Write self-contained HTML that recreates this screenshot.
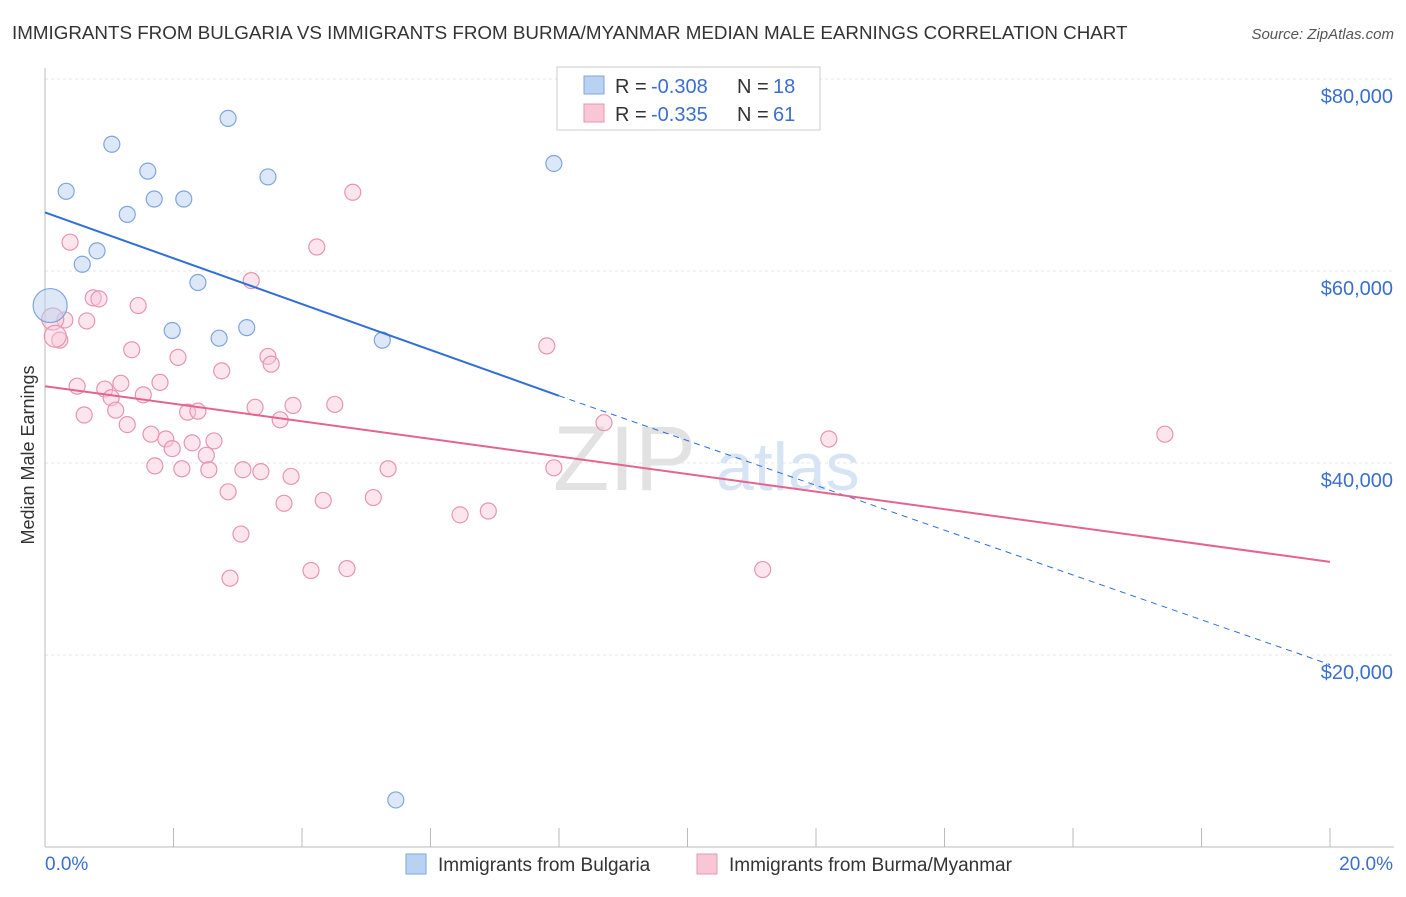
<!DOCTYPE html>
<html><head><meta charset="utf-8"><style>
body{margin:0;background:#fff;font-family:"Liberation Sans",sans-serif}
svg text{font-family:"Liberation Sans",sans-serif}
</style></head><body>
<svg id="c" width="1406" height="892" xmlns="http://www.w3.org/2000/svg">
<text x="12" y="39" font-size="18.8" fill="#333">IMMIGRANTS FROM BULGARIA VS IMMIGRANTS FROM BURMA/MYANMAR MEDIAN MALE EARNINGS CORRELATION CHART</text>
<text x="1394" y="39" font-size="15" fill="#555" text-anchor="end" font-style="italic">Source: ZipAtlas.com</text>
<text x="34" y="455" font-size="18" fill="#333" text-anchor="middle" transform="rotate(-90 34 455)">Median Male Earnings</text>
<text x="553" y="490" font-size="92" fill="#e2e2e2" font-family="Liberation Serif">ZIP</text>
<text x="716" y="490" font-size="68" fill="#d6e4f5">atlas</text>
<g id="grid"></g><g id="pts"></g><g id="lines"></g>
<g>
<rect x="557" y="67" width="263" height="63" fill="#fff" stroke="#ccc"/>
<rect x="584" y="76" width="20" height="18" fill="#b9d2f2" stroke="#7fa6dc"/>
<rect x="584" y="104" width="20" height="18" fill="#f9c6d6" stroke="#e795b0"/>
<text x="615" y="93" font-size="20" fill="#333">R =</text><text x="651" y="93" font-size="20" fill="#3a6fd0">-0.308</text>
<text x="737" y="93" font-size="20" fill="#333">N =</text><text x="773" y="93" font-size="20" fill="#3a6fd0">18</text>
<text x="615" y="121" font-size="20" fill="#333">R =</text><text x="651" y="121" font-size="20" fill="#3a6fd0">-0.335</text>
<text x="737" y="121" font-size="20" fill="#333">N =</text><text x="773" y="121" font-size="20" fill="#3a6fd0">61</text>
</g>
<g>
<rect x="406" y="854" width="20" height="20" fill="#b9d2f2" stroke="#7fa6dc"/>
<text x="438" y="871" font-size="19" fill="#333">Immigrants from Bulgaria</text>
<rect x="697" y="854" width="20" height="20" fill="#f9c6d6" stroke="#e795b0"/>
<text x="729" y="871" font-size="19" fill="#333">Immigrants from Burma/Myanmar</text>
</g>
</svg>
<script>
const yTicks=[20000,40000,60000,80000];
const yTickLabels=["$20,000","$40,000","$60,000","$80,000"];
const bulgariaX=[1.04,2.85,1.60,3.47,0.33,1.70,2.16,1.28,7.92,0.81,0.58,2.38,0.08,1.98,2.71,3.14,5.25,5.46];
const bulgariaY=[73200,75900,70400,69800,68300,67500,67500,65900,71200,62100,60700,58800,56400,53800,53000,54100,52800,4900];
const burmaX=[0.39,4.79,4.23,3.21,0.75,0.84,0.65,0.31,0.23,1.45,1.35,2.07,7.81,3.47,3.52,2.75,0.5,0.93,1.18,1.79,1.03,1.53,1.1,3.86,3.27,4.51,2.22,2.38,3.66,0.61,1.28,8.7,1.65,1.88,2.29,2.63,1.98,2.51,1.71,2.13,2.55,3.08,3.36,3.83,5.34,7.92,2.85,3.72,4.33,5.11,6.46,6.9,3.05,4.14,4.7,2.88,11.17,12.2,17.43,0.12,0.16];
const burmaY=[63000,68200,62500,59000,57200,57100,54800,54900,52800,56400,51800,51000,52200,51100,50300,49600,48000,47700,48300,48400,46800,47100,45500,46000,45800,46100,45300,45400,44500,45000,44000,44200,43000,42500,42100,42300,41500,40800,39700,39400,39300,39300,39100,38600,39400,39500,37000,35800,36100,36400,34600,35000,32600,28800,29000,28000,28900,42500,43000,55000,53200];
const bulgariaTrend=[0,66100,8,47000,20,19000];
const burmaTrend=[0,48000,20,29700];
const X=v=>45+v/20*1285, Y=v=>847-v/20000*192;
const NS="http://www.w3.org/2000/svg";
function mk(p,t,a){const e=document.createElementNS(NS,t);for(const k in a)e.setAttribute(k,a[k]);p.appendChild(e);return e;}
const g=document.getElementById('grid');
yTicks.forEach((t,i)=>{
 const l=mk(g,'line',{x1:45,x2:1394,y1:Y(t),y2:Y(t),stroke:'#e4e4e4','stroke-dasharray':'3,3'});
 
 
 const tx=mk(g,'text',{x:1393,y:Y(t)+24,'font-size':20,fill:'#3a6fd0','text-anchor':'end'});
 tx.textContent=yTickLabels[i];
 
 
});
mk(g,'line',{x1:45,x2:45,y1:68,y2:847,stroke:'#bbb'});
mk(g,'line',{x1:45,x2:1394,y1:847,y2:847,stroke:'#bbb'});
for(let i=0;i<=10;i++){mk(g,'line',{x1:X(i*2),x2:X(i*2),y1:828,y2:847,stroke:'#bbb'});}
const xl=mk(g,'text',{x:45,y:870,'font-size':19,fill:'#3a6fd0'});xl.textContent='0.0%';


const xr=mk(g,'text',{x:1393,y:870,'font-size':19,fill:'#3a6fd0','text-anchor':'end'});xr.textContent='20.0%';


const p=document.getElementById('pts');
burmaX.forEach((x,i)=>{const big=i>=59;const c=mk(p,'circle',{cx:X(x),cy:Y(burmaY[i]),r:big?11:8,fill:'rgba(249,198,214,0.45)',stroke:'#e795b0','stroke-width':1.2});
 
 });
bulgariaX.forEach((x,i)=>{const big=i==12;const c=mk(p,'circle',{cx:X(x),cy:Y(bulgariaY[i]),r:big?17:8,fill:'rgba(185,210,242,0.5)',stroke:'#7fa6dc','stroke-width':1.2});
 
 });
const L=document.getElementById('lines');
const b=bulgariaTrend;
const l1=mk(L,'line',{x1:X(b[0]),y1:Y(b[1]),x2:X(b[2]),y2:Y(b[3]),stroke:'#2f6fd6','stroke-width':2});


const l2=mk(L,'line',{x1:X(b[2]),y1:Y(b[3]),x2:X(b[4]),y2:Y(b[5]),stroke:'#2f6fd6','stroke-width':1,'stroke-dasharray':'6,5'});


const m=burmaTrend;
const l3=mk(L,'line',{x1:X(m[0]),y1:Y(m[1]),x2:X(m[2]),y2:Y(m[3]),stroke:'#e4648e','stroke-width':2});


</script>
</body></html>
